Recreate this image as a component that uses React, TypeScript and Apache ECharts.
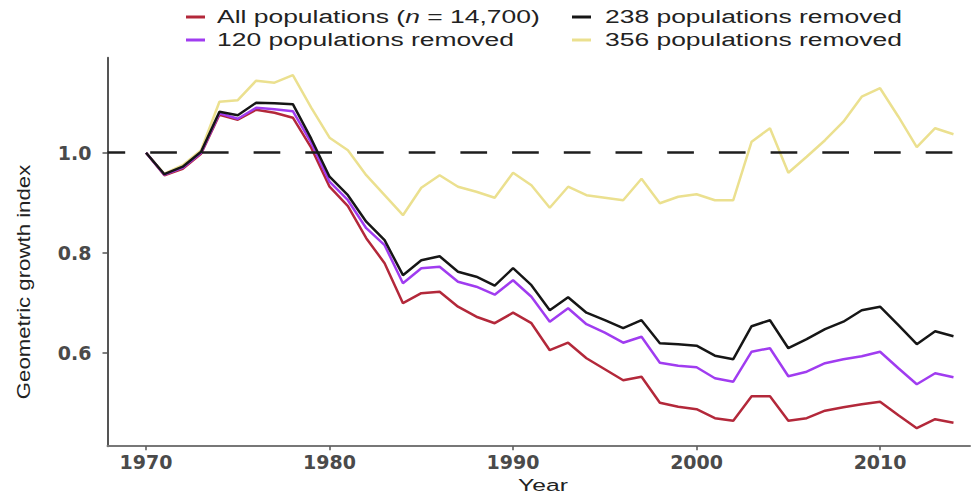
import React, { useEffect, useRef } from "react";
import * as echarts from "echarts";

const years: number[] = [];
for (let y = 1970; y <= 2014; y++) years.push(y);

const allPopulations = [
  1.0, 0.955, 0.968, 0.998, 1.076, 1.066, 1.086, 1.08, 1.07, 1.01,
  0.932, 0.893, 0.829, 0.779, 0.699, 0.719, 0.722, 0.692, 0.672, 0.659,
  0.68, 0.659, 0.605, 0.62, 0.589, 0.567, 0.545, 0.552, 0.5, 0.492,
  0.487, 0.469, 0.464, 0.513, 0.513, 0.464, 0.469, 0.484, 0.491, 0.497,
  0.502, 0.475, 0.449, 0.467, 0.46,
];
const removed120 = [
  1.0, 0.956, 0.97, 1.0, 1.079, 1.068, 1.09, 1.087, 1.083, 1.02,
  0.942, 0.905, 0.849, 0.815, 0.739, 0.769, 0.772, 0.742, 0.732, 0.716,
  0.745, 0.712, 0.662, 0.689, 0.657, 0.64, 0.62, 0.632, 0.58, 0.574,
  0.571, 0.549, 0.542, 0.602, 0.609, 0.553, 0.562, 0.579, 0.587, 0.593,
  0.602, 0.569, 0.537, 0.559, 0.551,
];
const removed238 = [
  1.0, 0.957, 0.972, 1.002, 1.082, 1.075, 1.1, 1.099, 1.097, 1.028,
  0.952, 0.915, 0.862, 0.825, 0.755, 0.785, 0.793, 0.762, 0.752, 0.734,
  0.769, 0.735, 0.685, 0.711, 0.68, 0.665, 0.649, 0.665, 0.619, 0.617,
  0.614, 0.594, 0.587, 0.653, 0.665, 0.609, 0.627, 0.647, 0.662, 0.685,
  0.692, 0.655, 0.617, 0.643, 0.633,
];
const removed356 = [
  1.0, 0.958, 0.975, 1.005, 1.102, 1.105, 1.144, 1.14, 1.155, 1.09,
  1.03, 1.005, 0.955, 0.915, 0.875, 0.93, 0.955, 0.932, 0.922, 0.91,
  0.96, 0.935, 0.89, 0.932, 0.915, 0.91, 0.905, 0.948, 0.899, 0.912,
  0.917, 0.905, 0.905, 1.022, 1.049, 0.96, 0.992, 1.025, 1.062, 1.112,
  1.129, 1.072, 1.011, 1.049, 1.037,
];

const xTicks = [1970, 1980, 1990, 2000, 2010];
const yTicks = [0.6, 0.8, 1.0];
const referenceValue = 1.0;

const COLORS = {
  all: "#b3283a",
  r120: "#a03cf0",
  r238: "#161616",
  r356: "#ebe08f",
};

const LABEL_FONT = "Liberation Sans, Arial, sans-serif";

export default function App() {
  const ref = useRef<HTMLDivElement>(null);

  useEffect(() => {
    if (!ref.current) return;
    const chart = echarts.init(ref.current, undefined, { renderer: "svg" });
    const pair = (arr: number[]) => years.map((y, i) => [y, arr[i]]);

    const legendRow1 = 17;
    const legendRow2 = 40;
    const col1Dash = 186;
    const col1Text = 217;
    const col2Dash = 572;
    const col2Text = 605;
    const stretch = 1.47;

    const legendText = (x: number, y: number, text: string, rich?: any) => ({
      type: "text",
      x,
      y,
      scaleX: stretch,
      style: {
        text,
        fontSize: 18,
        fontFamily: LABEL_FONT,
        fill: "#222",
        textAlign: "left",
        textVerticalAlign: "middle",
        rich,
      },
    });
    const legendDash = (x: number, y: number, color: string) => ({
      type: "line",
      shape: { x1: x, y1: y, x2: x + 19, y2: y },
      style: { stroke: color, lineWidth: 3 },
    });

    chart.setOption({
      animation: false,
      backgroundColor: "#ffffff",
      grid: { left: 107.5, right: 3, top: 57.7, bottom: 49.8 },
      xAxis: {
        type: "value",
        min: 1967.9,
        max: 2014.9,
        splitLine: { show: false },
        axisLine: { show: true, lineStyle: { color: "#777", width: 2 } },
        axisTick: {
          show: true,
          customValues: xTicks,
          length: 4,
          lineStyle: { color: "#555", width: 1.5 },
        },
        axisLabel: {
          customValues: xTicks,
          formatter: (v: number) => String(v),
          fontFamily: "DejaVu Sans",
          fontWeight: "bold",
          fontSize: 19,
          color: "#4a4a4a",
          margin: 6,
        },
      },
      yAxis: {
        type: "value",
        min: 0.413,
        max: 1.19,
        splitLine: { show: false },
        axisLine: { show: true, lineStyle: { color: "#555", width: 2 } },
        axisTick: {
          show: true,
          customValues: yTicks,
          length: 5,
          lineStyle: { color: "#555", width: 1.5 },
        },
        axisLabel: {
          customValues: yTicks,
          formatter: (v: number) => v.toFixed(1),
          fontFamily: "DejaVu Sans",
          fontWeight: "bold",
          fontSize: 19,
          color: "#4a4a4a",
          margin: 16,
        },
      },
      graphic: [
        legendDash(col1Dash, legendRow1, COLORS.all),
        legendText(col1Text, legendRow1, "All populations ({i|n} = 14,700)", {
          i: { fontStyle: "italic", fontSize: 18, fontFamily: LABEL_FONT, fill: "#222" },
        }),
        legendDash(col1Dash, legendRow2, COLORS.r120),
        legendText(col1Text, legendRow2, "120 populations removed"),
        legendDash(col2Dash, legendRow1, COLORS.r238),
        legendText(col2Text, legendRow1, "238 populations removed"),
        legendDash(col2Dash, legendRow2, COLORS.r356),
        legendText(col2Text, legendRow2, "356 populations removed"),
        {
          type: "text",
          x: 23,
          y: 282,
          rotation: Math.PI / 2,
          scaleX: 1.17,
          style: {
            text: "Geometric growth index",
            fontSize: 19,
            fontFamily: LABEL_FONT,
            fill: "#222",
            textAlign: "center",
            textVerticalAlign: "middle",
          },
        },
        {
          type: "text",
          x: 543,
          y: 485,
          scaleX: 1.45,
          style: {
            text: "Year",
            fontSize: 17,
            fontFamily: LABEL_FONT,
            fill: "#222",
            textAlign: "center",
            textVerticalAlign: "middle",
          },
        },
      ],
      series: [
        {
          name: "356 populations removed",
          type: "line",
          data: pair(removed356),
          showSymbol: false,
          lineStyle: { color: COLORS.r356, width: 2.5 },
          z: 2,
          markLine: {
            silent: true,
            symbol: "none",
            label: { show: false },
            lineStyle: {
              color: "#1e1e1e",
              width: 2.5,
              type: [26.7, 25],
              dashOffset: 8.5,
            },
            data: [{ yAxis: referenceValue }],
            z: 5,
          },
        },
        {
          name: "All populations",
          type: "line",
          data: pair(allPopulations),
          showSymbol: false,
          lineStyle: { color: COLORS.all, width: 2.5 },
          z: 3,
        },
        {
          name: "120 populations removed",
          type: "line",
          data: pair(removed120),
          showSymbol: false,
          lineStyle: { color: COLORS.r120, width: 2.5 },
          z: 4,
        },
        {
          name: "238 populations removed",
          type: "line",
          data: pair(removed238),
          showSymbol: false,
          lineStyle: { color: COLORS.r238, width: 2.5 },
          z: 5,
        },
      ],
    });
    return () => chart.dispose();
  }, []);

  return (
    <div
      ref={ref}
      style={{ position: "fixed", left: 0, top: 0, width: 973, height: 496, background: "#fff" }}
    />
  );
}
